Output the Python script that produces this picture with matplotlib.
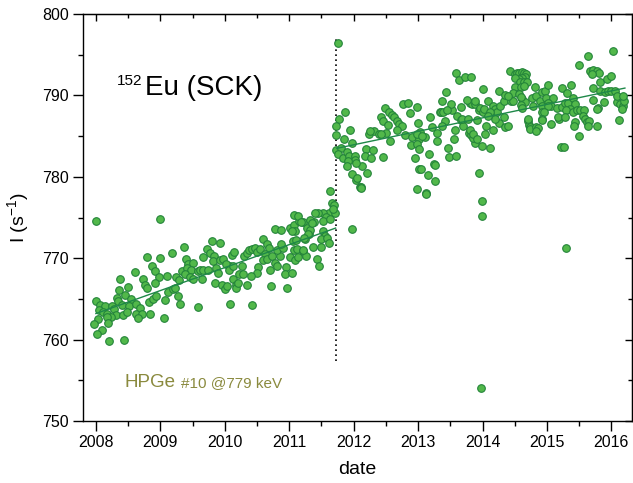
import numpy as np
import matplotlib
matplotlib.use("Agg")
import matplotlib.pyplot as plt
from matplotlib.ticker import MultipleLocator, FormatStrFormatter

plt.rcParams["font.family"] = ["Liberation Sans", "DejaVu Sans"]
plt.rcParams["mathtext.default"] = "regular"

# measurements before the change (2008 - mid 2011)
date_a = [
    2008.00, 2009.00, 2008.80, 2009.00, 2009.18, 2009.36, 2008.60, 2008.87, 2008.91, 2008.98,
    2009.11, 2008.73, 2008.76, 2008.79, 2008.92, 2008.38, 2008.50, 2008.36, 2008.45, 2008.32,
    2008.35, 2008.54, 2008.40, 2008.52, 2008.00, 2008.06, 2008.14, 2008.25, 2008.05, 2008.11,
    2008.18, 2008.28, 2008.31, 2008.23, 2008.17, 2008.04, 2007.97, 2008.19, 2008.09, 2008.02,
    2008.21, 2008.44, 2008.42, 2008.48, 2008.62, 2008.68, 2008.63, 2008.71, 2008.66, 2008.84,
    2009.05, 2008.82, 2008.88, 2008.94, 2009.08, 2009.12, 2009.20, 2009.23, 2009.27, 2009.30,
    2009.25, 2009.29, 2009.33, 2009.40, 2009.43, 2009.50, 2009.41, 2009.48, 2009.38, 2009.46,
    2009.51, 2009.58, 2009.59, 2010.08, 2010.43, 2009.66, 2009.72, 2009.80, 2009.92, 2009.77,
    2009.83, 2009.81, 2009.93, 2009.98, 2009.61, 2009.67, 2009.74, 2009.87, 2009.90, 2009.64,
    2009.85, 2009.95, 2010.00, 2010.03, 2010.13, 2010.18, 2010.17, 2010.21, 2010.34, 2010.08,
    2010.02, 2010.07, 2010.13, 2010.22, 2010.29, 2010.26, 2010.11, 2010.14, 2010.30, 2010.34,
    2010.38, 2010.42, 2010.47, 2010.50, 2010.55, 2010.60, 2010.66, 2010.69, 2010.62, 2010.59,
    2010.65, 2010.74, 2010.85, 2010.81, 2010.91, 2010.87, 2010.52, 2010.50, 2010.40, 2010.70,
    2010.78, 2010.81, 2010.72, 2010.95, 2010.93, 2011.05, 2010.97, 2011.01, 2011.09, 2011.07,
    2011.12, 2011.14, 2011.22, 2011.26, 2011.06, 2011.11, 2011.25, 2011.30, 2011.01, 2011.07,
    2011.09, 2011.15, 2011.07, 2011.14, 2011.21, 2010.78, 2010.87, 2011.04, 2011.63, 2011.66,
    2011.70, 2011.68, 2011.61, 2011.53, 2011.45, 2011.40, 2011.57, 2011.52, 2011.63, 2011.71,
    2011.39, 2011.33, 2011.27, 2011.32, 2011.29, 2011.19, 2011.53, 2011.55, 2011.50, 2011.59,
    2011.62, 2011.49, 2011.37, 2011.43, 2011.46, 2011.68, 2011.35, 2011.23, 2011.21,
]
rate_a = [
    774.6, 774.8, 770.2, 770.0, 770.7, 771.4, 768.3, 769.1, 768.4, 767.7,
    767.8, 767.5, 766.7, 766.3, 766.9, 767.5, 766.5, 766.1, 765.5, 765.1,
    764.7, 765.0, 764.2, 764.1, 764.8, 764.3, 764.1, 764.1, 763.6, 763.4,
    763.2, 763.7, 763.0, 762.8, 762.8, 762.5, 761.9, 762.1, 761.2, 760.7,
    759.8, 760.0, 763.0, 763.4, 764.4, 763.9, 763.2, 763.2, 762.6, 763.2,
    762.6, 764.6, 765.0, 765.3, 764.9, 765.8, 766.2, 766.4, 765.3, 764.4,
    767.7, 767.3, 768.4, 769.9, 769.3, 769.4, 768.8, 768.6, 768.0, 767.7,
    767.4, 768.4, 764.0, 764.4, 764.2, 770.1, 771.1, 772.1, 771.9, 770.6,
    770.3, 769.6, 769.8, 769.9, 768.6, 768.5, 768.6, 768.8, 768.2, 767.4,
    767.0, 766.7, 766.2, 766.6, 767.4, 766.7, 766.3, 766.9, 766.7, 769.0,
    769.3, 768.5, 769.1, 768.0, 768.0, 769.1, 770.4, 770.8, 770.3, 770.6,
    771.0, 771.1, 771.2, 770.8, 771.1, 772.4, 771.8, 771.2, 770.5, 769.8,
    769.9, 770.3, 770.3, 771.0, 771.2, 771.8, 768.9, 768.2, 767.8, 768.5,
    769.4, 769.1, 766.6, 768.9, 768.1, 768.2, 766.4, 770.2, 769.8, 771.0,
    771.1, 770.2, 770.9, 770.3, 772.1, 772.2, 772.3, 773.0, 773.7, 774.1,
    773.4, 774.6, 775.3, 775.2, 774.5, 773.6, 773.5, 773.4, 778.3, 776.8,
    776.5, 775.7, 775.5, 775.6, 775.5, 775.6, 775.1, 774.6, 774.8, 775.5,
    774.5, 774.7, 773.7, 773.5, 773.0, 774.5, 773.3, 772.7, 772.3, 772.5,
    771.9, 771.4, 771.4, 769.9, 769.1, 776.0, 774.3, 772.5, 771.0,
]

# measurements after the change (late 2011 - 2016)
date_b = [
    2011.75, 2011.98, 2012.04, 2012.10, 2012.99, 2013.12, 2013.26, 2013.99, 2013.99, 2013.98,
    2011.72, 2011.78, 2011.87, 2011.73, 2011.94, 2011.85, 2011.98, 2011.73, 2011.81, 2011.76,
    2011.83, 2011.90, 2011.93, 2012.02, 2012.19, 2012.30, 2012.18, 2012.27, 2012.46, 2012.02,
    2011.92, 2011.89, 2012.13, 2012.21, 2011.97, 2012.05, 2012.11, 2012.24, 2012.31, 2012.39,
    2012.51, 2012.57, 2012.43, 2012.45, 2012.49, 2012.55, 2012.59, 2012.63, 2012.68, 2012.71,
    2012.75, 2012.54, 2012.77, 2012.84, 2012.87, 2012.98, 2012.68, 2012.80, 2012.90, 2012.89,
    2013.02, 2012.98, 2013.01, 2013.03, 2013.00, 2013.11, 2012.96, 2013.17, 2013.25, 2013.02,
    2013.15, 2013.19, 2013.21, 2013.29, 2013.29, 2013.34, 2013.37, 2013.43, 2013.42, 2013.37,
    2013.47, 2013.48, 2013.59, 2013.53, 2013.51, 2013.55, 2013.57, 2013.60, 2013.67, 2013.70,
    2013.80, 2013.66, 2013.59, 2013.63, 2013.73, 2013.82, 2013.79, 2013.89, 2013.94, 2013.91,
    2013.95, 2013.36, 2013.39, 2013.45, 2012.99, 2013.06, 2013.83, 2013.88, 2013.82, 2013.86,
    2013.27, 2013.13, 2013.04, 2012.12, 2012.03, 2012.25, 2012.42,
    2014.00, 2014.25, 2014.43, 2014.51, 2014.54, 2014.57, 2014.61, 2014.64, 2014.67, 2014.66,
    2014.61, 2014.57, 2014.51, 2014.58, 2014.64, 2014.69, 2014.51, 2014.59, 2014.64, 2014.81,
    2014.48, 2013.76, 2013.89, 2013.96, 2014.00, 2014.02, 2014.09, 2014.17, 2014.20, 2014.22,
    2014.27, 2014.33, 2014.44, 2014.48, 2014.62, 2014.66, 2014.60, 2014.62, 2014.77, 2014.83,
    2014.92, 2014.97, 2015.02, 2014.89, 2014.99, 2015.10, 2015.02, 2015.06, 2015.15, 2015.23,
    2014.78, 2014.92, 2015.01, 2014.92, 2014.95, 2014.92, 2014.71, 2014.72, 2014.73, 2014.74,
    2014.83, 2014.86, 2014.83, 2015.06, 2015.19, 2015.24, 2015.31, 2015.37, 2015.28, 2015.33,
    2015.41, 2015.44, 2015.36, 2015.30, 2015.41, 2015.46, 2015.52, 2015.58, 2015.56, 2015.59,
    2015.62, 2015.66, 2015.44, 2015.42, 2015.49, 2015.22, 2015.26, 2015.49, 2015.64, 2015.67,
    2015.72, 2015.77, 2015.81, 2015.70, 2015.82, 2015.93, 2016.00, 2016.02, 2015.71, 2015.83,
    2015.90, 2015.95, 2016.00, 2016.06, 2015.72, 2015.88, 2015.80, 2015.78, 2016.08, 2016.14,
    2016.18, 2016.20, 2016.16, 2016.12, 2016.08, 2016.18, 2013.68, 2013.78, 2013.80, 2013.85,
    2013.91, 2013.99, 2014.11, 2014.06, 2014.04, 2014.16, 2014.25, 2014.35, 2014.40, 2014.33,
    2014.20, 2014.12, 2014.09, 2015.64, 2015.78, 2014.35, 2014.40, 2014.56, 2014.60, 2014.71,
    2014.93, 2015.17, 2015.28, 2015.30,
]
rate_b = [
    796.4, 773.6, 779.6, 778.7, 778.5, 778.0, 779.5, 777.0, 775.2, 754.1,
    785.1, 787.1, 788.0, 786.2, 785.7, 784.7, 784.1, 783.3, 783.5, 782.8,
    782.3, 783.0, 782.6, 782.6, 783.4, 783.3, 782.6, 782.3, 782.4, 782.1,
    781.9, 781.3, 781.3, 780.5, 780.3, 779.8, 778.8, 785.3, 785.6, 785.3,
    785.4, 784.4, 787.4, 786.8, 788.5, 787.9, 787.6, 787.3, 786.9, 786.5,
    786.2, 786.4, 788.9, 789.1, 787.8, 788.6, 785.8, 785.1, 784.9, 783.9,
    784.6, 784.0, 783.4, 785.5, 786.6, 784.9, 782.3, 782.8, 781.6, 780.9,
    780.2, 787.3, 786.1, 785.4, 784.4, 787.9, 789.3, 790.4, 786.8, 786.2,
    783.5, 782.4, 782.5, 788.2, 788.9, 784.6, 785.7, 787.5, 787.0, 786.2,
    789.1, 788.6, 792.7, 791.9, 792.3, 792.3, 785.4, 784.2, 788.2, 787.0,
    780.5, 787.9, 788.0, 788.2, 785.3, 785.0, 789.0, 789.0, 785.1, 784.8,
    781.4, 777.9, 781.0, 778.6, 781.7, 785.6, 785.3,
    790.8, 790.5, 793.0, 792.6, 792.8, 792.7, 792.9, 792.7, 792.6, 792.2,
    792.1, 792.0, 792.1, 791.6, 791.6, 791.7, 791.0, 791.0, 791.1, 791.0,
    790.3, 789.4, 789.3, 788.4, 788.0, 788.3, 789.3, 788.7, 788.3, 787.9,
    788.7, 789.3, 789.3, 789.3, 789.5, 789.2, 788.8, 788.5, 789.7, 789.9,
    790.4, 790.5, 791.3, 789.3, 789.7, 789.7, 789.1, 788.7, 788.5, 788.6,
    788.7, 788.7, 788.7, 787.9, 788.0, 787.1, 786.8, 786.4, 786.1, 785.9,
    786.1, 786.0, 785.6, 786.5, 787.1, 790.9, 790.3, 791.3, 789.1, 789.1,
    789.7, 788.9, 788.3, 788.2, 788.0, 788.2, 788.2, 788.2, 787.5, 787.1,
    786.7, 786.8, 786.7, 786.2, 785.0, 783.6, 783.6, 793.7, 794.8, 793.0,
    793.1, 793.0, 792.7, 792.6, 791.7, 792.0, 792.4, 795.4, 790.9, 790.5,
    790.4, 790.5, 790.6, 790.5, 789.4, 789.2, 788.5, 788.3, 789.2, 788.9,
    788.7, 789.3, 788.3, 787.0, 789.9, 789.9, 787.1, 787.1, 785.8, 785.3,
    784.6, 783.8, 783.5, 786.2, 785.3, 785.8, 786.6, 786.1, 786.2, 787.3,
    787.1, 787.9, 787.5, 786.2, 786.3, 790.0, 789.9, 790.2, 789.8, 787.1,
    787.0, 787.3, 787.3, 771.2,
]

# fitted trends
fit_a_date = [2008.0, 2011.72]
fit_a_rate = [763.2, 773.7]
fit_b_date = [2011.74, 2016.21]
fit_b_rate = [783.5, 790.9]

step_date = 2011.72
step_range = [757.4, 797.2]

fill = "#52b84a"
edge = "#23843a"
olive = "#8a8a3e"

fig = plt.figure(figsize=(6.33, 4.83), dpi=100)
ax = fig.add_axes([83 / 633, 62 / 483, 549 / 633, 407 / 483])

ax.scatter(date_a, rate_a, s=30, c=fill, edgecolors=edge, linewidths=0.8, zorder=3)
ax.scatter(date_b, rate_b, s=30, c=fill, edgecolors=edge, linewidths=0.8, zorder=3)
ax.plot(fit_a_date, fit_a_rate, color="#1e8848", lw=1.0, zorder=4)
ax.plot(fit_b_date, fit_b_rate, color="#1e8848", lw=1.0, zorder=4)
ax.plot([step_date, step_date], step_range, color="black", lw=1.2,
        linestyle=(0, (1, 2)), zorder=2)

ax.set_xlim(2007.80, 2016.32)
ax.set_ylim(750, 800)

ax.xaxis.set_major_locator(MultipleLocator(1))
ax.xaxis.set_minor_locator(MultipleLocator(0.5))
ax.xaxis.set_major_formatter(FormatStrFormatter("%d"))
ax.yaxis.set_major_locator(MultipleLocator(10))
ax.yaxis.set_minor_locator(MultipleLocator(5))
ax.tick_params(which="major", direction="out", length=7, width=1.0, labelsize=11.5, pad=3)
ax.tick_params(which="minor", direction="out", length=3.5, width=1.0)

# mirrored ticks on top and right point inward
top = ax.secondary_xaxis("top")
top.xaxis.set_major_locator(MultipleLocator(1))
top.xaxis.set_minor_locator(MultipleLocator(0.5))
top.tick_params(which="major", direction="in", length=5, width=1.0, labeltop=False)
top.tick_params(which="minor", direction="in", length=3, width=1.0)
right = ax.secondary_yaxis("right")
right.yaxis.set_major_locator(MultipleLocator(10))
right.yaxis.set_minor_locator(MultipleLocator(5))
right.tick_params(which="major", direction="in", length=5, width=1.0, labelright=False)
right.tick_params(which="minor", direction="in", length=3, width=1.0)

for sp in ax.spines.values():
    sp.set_linewidth(1.0)

ax.set_xlabel("date", fontsize=14, labelpad=8)
ax.set_ylabel("I (s$^{-1}$)", fontsize=14, labelpad=8)

fig.text(117 / 633, 1 - 85 / 483, "152", fontsize=11, va="baseline")
fig.text(145 / 633, 1 - 95 / 483, "Eu (SCK)", fontsize=20, va="baseline")
fig.text(124 / 633, 1 - 387 / 483, "HPGe", fontsize=13.5, color=olive, va="baseline")
fig.text(181 / 633, 1 - 387 / 483, "#10 @779 keV", fontsize=11, color=olive, va="baseline")

fig.savefig("out.png", dpi=100)
